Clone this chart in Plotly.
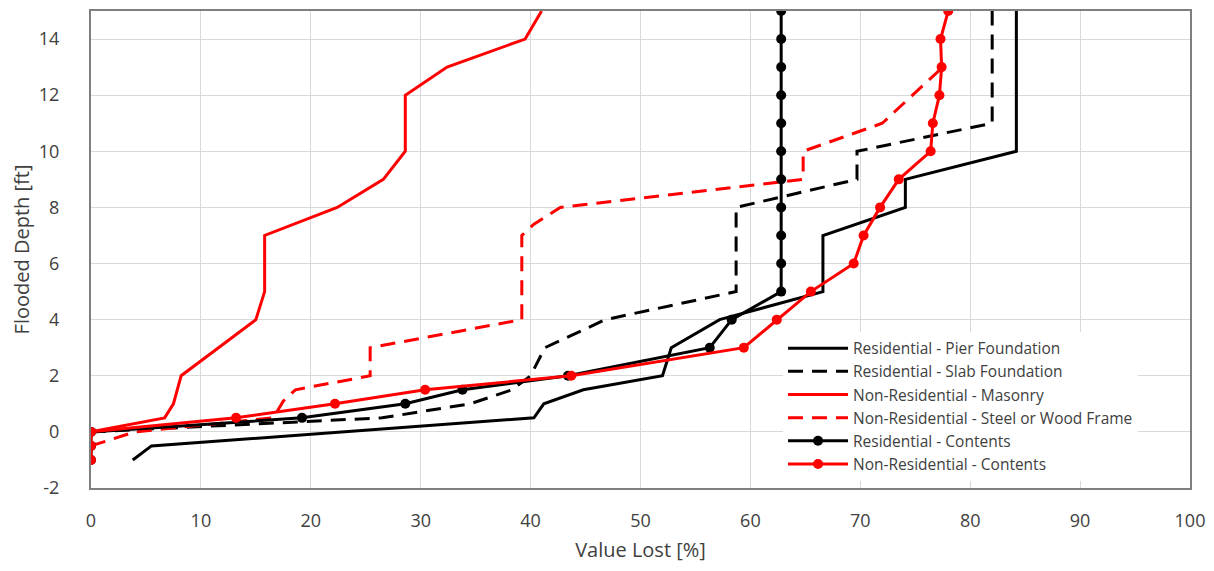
import plotly.graph_objects as go

# ---- data (Value Lost [%] vs Flooded Depth [ft]) ----
pier_x = [3.8, 5.5, 40.3, 41.2, 44.8, 52.0, 52.8, 57.2, 66.6, 66.6, 74.1, 74.1, 84.2, 84.2]
pier_y = [-1, -0.5, 0.5, 1, 1.5, 2, 3, 4, 5, 7, 8, 9, 10, 15]

slab_x = [0, 26.5, 34.5, 38.3, 40.0, 41.3, 46.8, 58.7, 58.7, 69.7, 69.7, 82.0, 82.0]
slab_y = [0, 0.5, 1, 1.5, 2, 3, 4, 5, 8, 9, 10, 11, 15]

mas_x = [0, 6.7, 7.5, 8.2, 11.6, 15.0, 15.8, 15.8, 22.4, 26.6, 28.6, 28.6, 32.4, 39.5, 41.0]
mas_y = [0, 0.5, 1, 2, 3, 4, 5, 7, 8, 9, 10, 12, 13, 14, 15]

steel_x = [0, 4.0, 16.6, 17.5, 18.6, 25.4, 25.4, 39.2, 39.2, 40.3, 42.7, 64.8, 64.8, 72.0, 77.5]
steel_y = [-0.5, 0, 0.5, 1.1, 1.5, 2, 3, 4, 7, 7.4, 8, 9, 10, 11, 13]

rescont_x = [0, 0, 0, 19.2, 28.6, 33.8, 43.4, 56.3, 58.3, 62.8, 62.8, 62.8, 62.8, 62.8,
             62.8, 62.8, 62.8, 62.8, 62.8, 62.8]
rescont_y = [-1, -0.5, 0, 0.5, 1, 1.5, 2, 3, 4, 5, 6, 7, 8, 9, 10, 11, 12, 13, 14, 15]

nrcont_x = [0, 0, 0, 13.2, 22.2, 30.4, 43.7, 59.4, 62.4, 65.5, 69.4, 70.3, 71.8, 73.5,
            76.4, 76.6, 77.2, 77.4, 77.3, 78.0]
nrcont_y = [-1, -0.5, 0, 0.5, 1, 1.5, 2, 3, 4, 5, 6, 7, 8, 9, 10, 11, 12, 13, 14, 15]

names = ["Residential - Pier Foundation", "Residential - Slab Foundation",
         "Non-Residential - Masonry", "Non-Residential - Steel or Wood Frame",
         "Residential - Contents", "Non-Residential - Contents"]

x_ticks = [0, 10, 20, 30, 40, 50, 60, 70, 80, 90, 100]
y_ticks = [-2, 0, 2, 4, 6, 8, 10, 12, 14]

BLACK = "#000000"
RED = "#ff0000"
DASH = "15px,9px"
FONT = "Open Sans"
TXT = "#404040"

fig = go.Figure()
fig.add_trace(go.Scatter(x=pier_x, y=pier_y, mode="lines", name=names[0],
                         line=dict(color=BLACK, width=3)))
fig.add_trace(go.Scatter(x=slab_x, y=slab_y, mode="lines", name=names[1],
                         line=dict(color=BLACK, width=3, dash=DASH)))
fig.add_trace(go.Scatter(x=mas_x, y=mas_y, mode="lines", name=names[2],
                         line=dict(color=RED, width=3)))
fig.add_trace(go.Scatter(x=steel_x, y=steel_y, mode="lines", name=names[3],
                         line=dict(color=RED, width=3, dash=DASH)))
fig.add_trace(go.Scatter(x=rescont_x, y=rescont_y, mode="lines+markers", name=names[4],
                         line=dict(color=BLACK, width=3),
                         marker=dict(color=BLACK, size=10)))
fig.add_trace(go.Scatter(x=nrcont_x, y=nrcont_y, mode="lines+markers", name=names[5],
                         line=dict(color=RED, width=3),
                         marker=dict(color=RED, size=10)))

fig.update_layout(
    width=1206, height=563,
    margin=dict(l=83, r=24, t=1, b=83),
    paper_bgcolor="white", plot_bgcolor="white",
    font=dict(family=FONT, size=16, color=TXT),
    showlegend=True,
    legend=dict(x=0.6297, y=0.3278, xanchor="left", yanchor="top",
                bgcolor="white", borderwidth=0,
                font=dict(family=FONT, size=15.5, color=TXT),
                itemwidth=60, tracegroupgap=0),
)
fig.update_xaxes(range=[0, 100], tickvals=x_ticks, ticktext=[str(v) for v in x_ticks],
                 showgrid=True, gridcolor="#d9d9d9", gridwidth=1, zeroline=False,
                 showline=True, linecolor="#7f7f7f", linewidth=2, mirror=True,
                 ticks="", ticklabelstandoff=15,
                 tickfont=dict(family=FONT, size=18, color=TXT),
                 title=dict(text="Value Lost [%]", standoff=12,
                            font=dict(family=FONT, size=20, color=TXT)))
fig.update_yaxes(range=[-2, 15], tickvals=y_ticks, ticktext=[str(v) for v in y_ticks],
                 showgrid=True, gridcolor="#d9d9d9", gridwidth=1, zeroline=False,
                 showline=True, linecolor="#7f7f7f", linewidth=2, mirror=True,
                 ticks="", ticklabelstandoff=26,
                 tickfont=dict(family=FONT, size=18, color=TXT),
                 title=dict(text="Flooded Depth [ft]", standoff=6,
                            font=dict(family=FONT, size=20, color=TXT)))

fig.write_html("out.html")
